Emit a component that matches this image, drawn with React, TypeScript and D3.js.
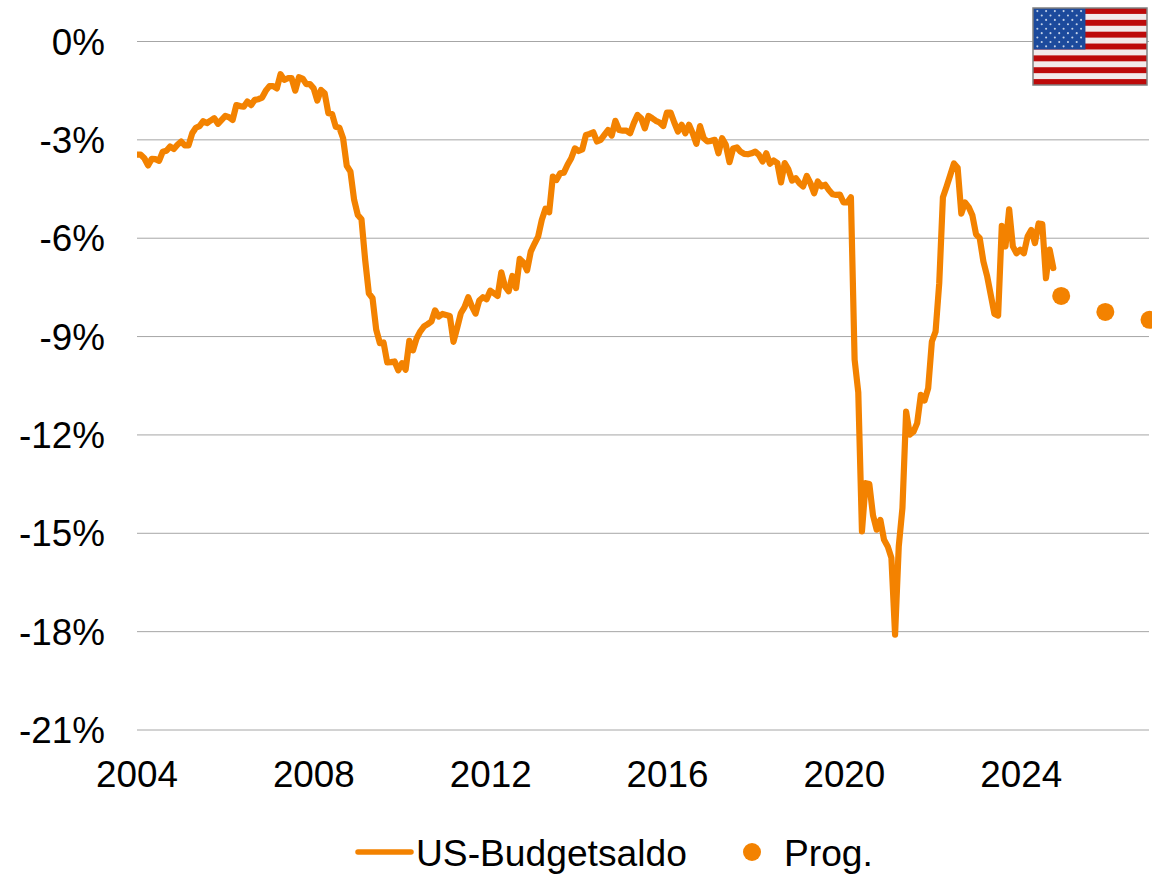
import React from "react";
import * as d3 from "d3";

const startYear = 2004;
const budgetBalance = [
  -3.45,-3.45,-3.56,-3.78,-3.58,-3.59,-3.64,-3.36,-3.33,-3.20,-3.28,-3.15,
  -3.05,-3.17,-3.17,-2.80,-2.63,-2.58,-2.43,-2.49,-2.41,-2.34,-2.51,-2.39,
  -2.27,-2.31,-2.39,-1.94,-1.97,-1.99,-1.83,-1.94,-1.78,-1.76,-1.71,-1.50,
  -1.36,-1.36,-1.43,-1.00,-1.17,-1.12,-1.12,-1.50,-1.09,-1.13,-1.30,-1.30,
  -1.43,-1.80,-1.48,-1.58,-2.19,-2.21,-2.60,-2.63,-2.95,-3.79,-3.97,-4.83,
  -5.29,-5.42,-6.66,-7.68,-7.83,-8.79,-9.20,-9.18,-9.79,-9.78,-9.76,-10.03,
  -9.81,-10.01,-9.13,-9.42,-9.05,-8.84,-8.69,-8.62,-8.54,-8.20,-8.39,-8.31,
  -8.34,-8.37,-9.16,-8.74,-8.29,-8.10,-7.80,-8.08,-8.30,-7.90,-7.80,-7.86,
  -7.60,-7.68,-7.76,-7.04,-7.47,-7.62,-7.15,-7.52,-6.63,-6.74,-6.98,-6.41,
  -6.17,-5.95,-5.44,-5.10,-5.21,-4.12,-4.22,-4.02,-4.00,-3.76,-3.56,-3.26,
  -3.34,-3.29,-2.85,-2.82,-2.77,-3.05,-3.00,-2.85,-2.70,-2.87,-2.42,-2.70,
  -2.72,-2.72,-2.80,-2.49,-2.24,-2.34,-2.65,-2.27,-2.34,-2.42,-2.47,-2.58,
  -2.17,-2.17,-2.47,-2.75,-2.54,-2.80,-2.54,-2.80,-3.12,-2.58,-2.95,-3.05,
  -3.03,-3.00,-3.41,-2.95,-3.15,-3.68,-3.26,-3.23,-3.36,-3.43,-3.44,-3.41,
  -3.36,-3.46,-3.66,-3.41,-3.73,-3.63,-3.71,-4.30,-3.71,-3.90,-4.24,-4.17,
  -4.32,-4.42,-4.10,-4.32,-4.63,-4.27,-4.42,-4.37,-4.53,-4.66,-4.68,-4.67,
  -4.91,-4.91,-4.75,-9.70,-10.70,-14.94,-13.47,-13.50,-14.45,-14.89,-14.59,-15.20,
  -15.40,-15.75,-18.09,-15.40,-14.23,-11.29,-11.99,-11.90,-11.64,-10.78,-10.95,-10.57,
  -9.15,-8.85,-7.37,-4.75,-4.42,-4.07,-3.72,-3.85,-5.25,-4.91,-5.05,-5.30,
  -5.88,-6.00,-6.71,-7.15,-7.73,-8.31,-8.36,-5.62,-6.25,-5.12,-6.25,-6.46,
  -6.35,-6.46,-5.95,-5.75,-6.15,-5.55,-5.57,-7.22,-6.35,-6.91,
];
const forecastYears = [2024.9167, 2025.9167, 2026.9167];
const forecastValues = [-7.76, -8.25, -8.49];
const yTicks = [0, -3, -6, -9, -12, -15, -18, -21];
const xTicks = [2004, 2008, 2012, 2016, 2020, 2024];
const legendLabels = ["US-Budgetsaldo", "Prog."];

const ORANGE = "#f38200";
const FONT = "'Liberation Sans', Arial, sans-serif";
const FONT_SIZE = 36.8;

function Flag({ x, y, w, h }: { x: number; y: number; w: number; h: number }) {
  const sh = h / 13;
  const cw = w * 0.46;
  const ch = sh * 7;
  const stripes = d3.range(13);
  const rows = d3.range(9);
  return (
    <g>
      <rect x={x} y={y} width={w} height={h} fill="#f2eaea" />
      {stripes.filter((i) => i % 2 === 0).map((i) => (
        <rect key={i} x={x} y={y + i * sh} width={w} height={sh} fill="#bd0a0a" />
      ))}
      <rect x={x} y={y} width={cw} height={ch} fill="#1c4a9c" />
      {rows.map((r) =>
        d3.range(r % 2 === 0 ? 6 : 5).map((c) => (
          <circle
            key={`${r}-${c}`}
            cx={x + cw * ((c + (r % 2 === 0 ? 0.5 : 1)) / 6)}
            cy={y + ch * ((r + 0.7) / 9.4)}
            r={1.05}
            fill="#c4d2e8"
          />
        ))
      )}
      <rect x={x} y={y} width={w} height={h} fill="none" stroke="#808080" strokeWidth={1.5} />
    </g>
  );
}

export default function App() {
  const x = d3.scaleLinear().domain([2004, 2026.9167]).range([137, 1149]);
  const y = d3.scaleLinear().domain([0, -21]).range([41.5, 730]);
  const line = d3
    .line<number>()
    .x((_, i) => x(startYear + i / 12))
    .y((d) => y(d));

  return (
    <svg
      width={1152}
      height={875}
      style={{ position: "absolute", left: 0, top: 0, display: "block", background: "#fff" }}
      fontFamily={FONT}
      fontSize={FONT_SIZE}
    >
      <defs>
        <clipPath id="plot-clip">
          <rect x={137} y={0} width={1015} height={760} />
        </clipPath>
      </defs>
      {yTicks.map((t) => (
        <g key={t}>
          <line x1={137} x2={1149} y1={y(t)} y2={y(t)} stroke="#a6a6a6" strokeWidth={1} />
          <text x={105} y={y(t) + 13} textAnchor="end" fill="#000">
            {t}%
          </text>
        </g>
      ))}
      {xTicks.map((t) => (
        <text key={t} x={x(t) + (t - 2004) * 0.05} y={787} textAnchor="middle" fill="#000">
          {t}
        </text>
      ))}
      <g clipPath="url(#plot-clip)">
        <path
          d={line(budgetBalance) ?? ""}
          fill="none"
          stroke={ORANGE}
          strokeWidth={6.2}
          strokeLinejoin="round"
          strokeLinecap="round"
        />
        {forecastValues.map((v, i) => (
          <circle key={i} cx={x(forecastYears[i]) + 0.5} cy={y(v)} r={9} fill={ORANGE} />
        ))}
      </g>
      <Flag x={1033} y={8} w={114} h={77} />
      <line x1={358} x2={411} y1={852} y2={852} stroke={ORANGE} strokeWidth={5.5} strokeLinecap="round" />
      <text x={416} y={866} fill="#000" fontSize={37.2}>
        {legendLabels[0]}
      </text>
      <circle cx={752} cy={852} r={9} fill={ORANGE} />
      <text x={784} y={866} fill="#000" fontSize={37.2}>
        {legendLabels[1]}
      </text>
    </svg>
  );
}
